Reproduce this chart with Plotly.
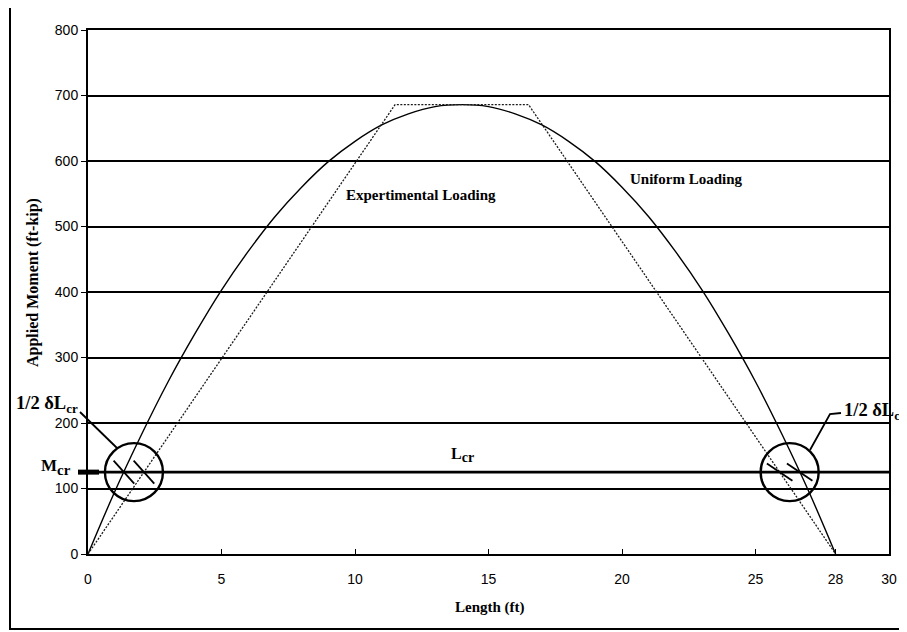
import numpy as np
import plotly.graph_objects as go

# ---------------- data ----------------
length_ft = list(range(29))
uniform_moment = [0, 95, 182, 263, 336, 403, 462, 515, 560, 599, 630, 655, 672, 683, 686,
                  683, 672, 655, 630, 599, 560, 515, 462, 403, 336, 263, 182, 95, 0]
exp_length = [0, 11.5, 16.5, 28]
exp_moment = [0, 686, 686, 0]
Mcr = 125
x_range = [0, 30]
y_range = [0, 800]
x_tick_vals = [0, 5, 10, 15, 20, 25, 28, 30]
y_tick_vals = [0, 100, 200, 300, 400, 500, 600, 700, 800]

# intersections of loadings with Mcr
xu = np.array(length_ft, float); yu = np.array(uniform_moment, float)
pk = int(np.argmax(yu))
u_left = np.interp(Mcr, yu[:pk + 1], xu[:pk + 1])
u_right = np.interp(Mcr, yu[pk:][::-1], xu[pk:][::-1])
xe = np.array(exp_length, float); ye = np.array(exp_moment, float)
e_left = np.interp(Mcr, ye[:2], xe[:2])
e_right = np.interp(Mcr, ye[2:][::-1], xe[2:][::-1])

SERIF = "Liberation Serif"
SANS = "Liberation Sans"

fig = go.Figure()
fig.add_trace(go.Scatter(x=length_ft, y=uniform_moment, mode="lines",
                         line=dict(color="black", width=1.4, shape="spline"),
                         showlegend=False, hoverinfo="skip"))
fig.add_trace(go.Scatter(x=exp_length, y=exp_moment, mode="lines",
                         line=dict(color="#1a1a1a", width=1.3, dash="2px,1.5px"),
                         showlegend=False, hoverinfo="skip"))
fig.add_trace(go.Scatter(x=x_range, y=[Mcr, Mcr], mode="lines",
                         line=dict(color="black", width=2.6),
                         showlegend=False, hoverinfo="skip"))
fig.add_trace(go.Scatter(x=[u_left, e_left, e_right, u_right], y=[Mcr] * 4, mode="markers",
                         marker=dict(symbol="line-ew", size=22, angle=[48, 48, 34, 34],
                                     line=dict(color="black", width=1.8)),
                         showlegend=False, hoverinfo="skip"))

# page has an 8px body margin: figure is placed at (8, 8) in the 907x632 window
OFF = 8
WIN_W, WIN_H = 907, 632
PL, PR, PT, PB = 88, 889, 30, 554          # plot area in window pixels
W, H = WIN_W - OFF, WIN_H - OFF
L, R, T, B = PL - OFF, WIN_W - PR, PT - OFF, WIN_H - PB
pw, ph = PR - PL, PB - PT


def px(xp):
    return (xp - PL) / pw


def py(yp):
    return (PB - yp) / ph


shapes = []
# circles around intersections
for cx in [(u_left + e_left) / 2, (u_right + e_right) / 2]:
    shapes.append(dict(type="circle", xref="x", yref="y", xsizemode="pixel", ysizemode="pixel",
                       xanchor=cx, yanchor=Mcr, x0=-29, x1=29, y0=-29, y1=29,
                       line=dict(color="black", width=2.4)))
# Mcr marker bar at left
ymc = (Mcr - y_range[0]) / (y_range[1] - y_range[0])
shapes.append(dict(type="line", xref="paper", yref="paper", x0=px(78), x1=px(99), y0=ymc, y1=ymc,
                   line=dict(color="black", width=5)))
# leader lines
shapes.append(dict(type="line", xref="paper", yref="paper", x0=px(80), y0=py(412), x1=px(117), y1=py(448),
                   line=dict(color="black", width=1.8)))
shapes.append(dict(type="path", xref="paper", yref="paper",
                   path=f"M {px(841)} {py(413)} L {px(830)} {py(414)} L {px(810)} {py(450)}",
                   line=dict(color="black", width=1.8)))
# outer frame
shapes.append(dict(type="rect", xref="paper", yref="paper", x0=px(10), x1=px(906), y0=py(629), y1=py(5),
                   line=dict(color="black", width=2)))

ann = []


def txt(x, y, t, size=14, xanchor="center", **kw):
    ann.append(dict(x=x, y=y, xref="paper", yref="paper", text=t, showarrow=False,
                    xanchor=xanchor, yanchor="middle",
                    font=dict(family=SERIF, size=size, color="black"), **kw))


BIGSUB = '<sub><span style="font-size:125%">cr</span></sub>'
txt(px(33), py(283), "<b>Applied Moment (ft-kip)</b>", size=16, textangle=-90)
txt(px(490), py(607), "<b>Length (ft)</b>", size=15)
txt(px(344), py(195), "<b>Expertimental Loading</b>", size=15, xanchor="left")
txt(px(628), py(179), "<b>Uniform Loading</b>", size=15, xanchor="left")
txt(px(449), py(455), "<b>L" + BIGSUB + "</b>", size=16, xanchor="left")
txt(px(14), py(404), "<b>1/2 δL<sub>cr</sub></b>", size=18.5, xanchor="left")
txt(px(842), py(412), "<b>1/2 δL<sub>cr</sub></b>", size=18.5, xanchor="left")
txt(px(39), py(467), "<b>M" + BIGSUB + "</b>", size=17, xanchor="left")

fig.update_layout(
    width=W, height=H, margin=dict(l=L, r=R, t=T, b=B, autoexpand=False),
    paper_bgcolor="white", plot_bgcolor="white",
    shapes=shapes, annotations=ann, showlegend=False,
    xaxis=dict(range=x_range, tickvals=x_tick_vals, ticktext=[str(v) for v in x_tick_vals],
               showgrid=False, zeroline=False, showline=True, mirror=True,
               linecolor="black", linewidth=2, ticks="inside", ticklen=5, tickcolor="black",
               tickfont=dict(family=SANS, size=14, color="black"), ticklabelstandoff=11),
    yaxis=dict(range=y_range, tickvals=y_tick_vals, showgrid=True, gridcolor="black", gridwidth=1.5,
               zeroline=False, showline=True, mirror=True, linecolor="black", linewidth=2,
               ticks="outside", ticklen=5, tickcolor="black",
               tickfont=dict(family=SANS, size=14, color="black")),
)

fig.write_html("out.html")
